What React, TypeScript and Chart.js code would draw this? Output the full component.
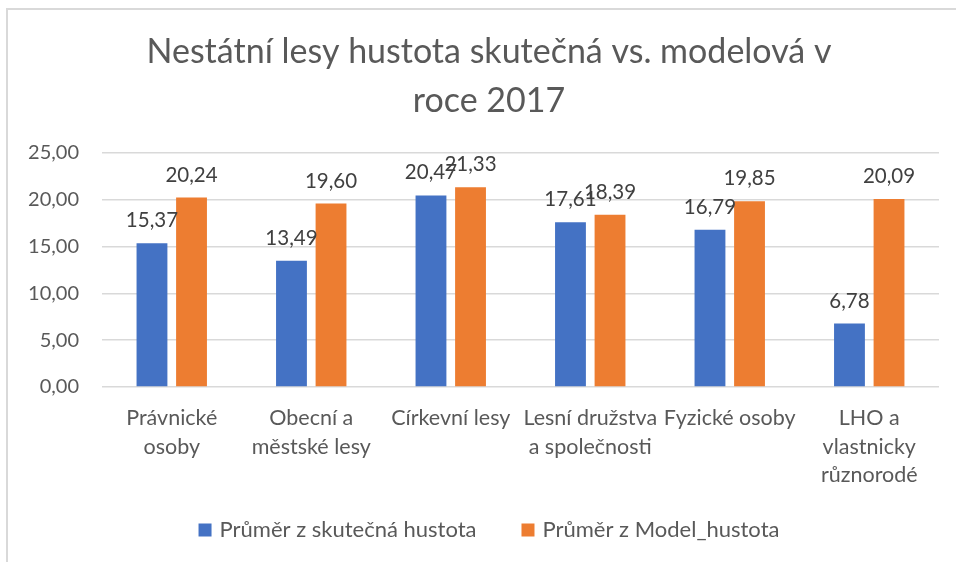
import React, { useEffect, useRef } from "react";
import { Chart, registerables } from "chart.js";

Chart.register(...registerables);

const categories: string[][] = [
  ["Právnické", "osoby"],
  ["Obecní a", "městské lesy"],
  ["Církevní lesy"],
  ["Lesní družstva", "a společnosti"],
  ["Fyzické osoby"],
  ["LHO a", "vlastnicky", "různorodé"],
];
const actualValues: number[] = [15.37, 13.49, 20.47, 17.61, 16.79, 6.78];
const modelValues: number[] = [20.24, 19.6, 21.33, 18.39, 19.85, 20.09];
const seriesNames: string[] = ["Průměr z skutečná hustota", "Průměr z Model_hustota"];
const seriesColors: string[] = ["#4472C4", "#ED7D31"];
const titleLines: string[] = ["Nestátní lesy hustota skutečná vs. modelová v", "roce 2017"];

const FONT = "Lato, 'Open Sans', sans-serif";
const TEXT = "#595959";
const CENTER_X = 489;
const fmt = (v: number) => v.toFixed(2).replace(".", ",");

const framePlugin = {
  id: "frame",
  beforeDraw(chart: any) {
    const { ctx, width, height } = chart;
    ctx.save();
    ctx.fillStyle = "#ffffff";
    ctx.fillRect(0, 0, width, height);
    ctx.strokeStyle = "#d9d9d9";
    ctx.lineWidth = 2;
    ctx.beginPath();
    ctx.moveTo(7, height);
    ctx.lineTo(7, 9);
    ctx.lineTo(width, 9);
    ctx.stroke();
    ctx.restore();
  },
};

const titlePlugin = {
  id: "customTitle",
  afterDraw(chart: any) {
    const { ctx } = chart;
    ctx.save();
    ctx.font = `34px ${FONT}`;
    ctx.fillStyle = TEXT;
    ctx.textAlign = "center";
    ctx.textBaseline = "middle";
    titleLines.forEach((line, i) => {
      ctx.fillText(line, CENTER_X, 52.5 + i * 49);
    });
    ctx.restore();
  },
};

const labelsPlugin = {
  id: "valueLabels",
  afterDatasetsDraw(chart: any) {
    const { ctx } = chart;
    ctx.save();
    ctx.font = `20.5px ${FONT}`;
    ctx.fillStyle = "#404040";
    ctx.textAlign = "center";
    ctx.textBaseline = "alphabetic";
    chart.data.datasets.forEach((ds: any, i: number) => {
      const meta = chart.getDatasetMeta(i);
      meta.data.forEach((bar: any, j: number) => {
        ctx.fillText(fmt(ds.data[j]), bar.x, bar.y - 16);
      });
    });
    ctx.restore();
  },
};

const legendPlugin = {
  id: "customLegend",
  afterDraw(chart: any) {
    const { ctx } = chart;
    ctx.save();
    ctx.font = `22px ${FONT}`;
    ctx.textBaseline = "middle";
    ctx.textAlign = "left";
    const box = 13;
    const gapText = 8;
    const gapItems = 45;
    const items = chart.data.datasets.map((ds: any) => ({
      text: ds.label as string,
      color: ds.backgroundColor as string,
      w: box + gapText + ctx.measureText(ds.label).width,
    }));
    const total = items.reduce((s: number, it: any) => s + it.w, 0) + gapItems * (items.length - 1);
    let x = CENTER_X - total / 2;
    const cy = 530;
    items.forEach((it: any) => {
      ctx.fillStyle = it.color;
      ctx.fillRect(x, cy - box / 2, box, box);
      ctx.fillStyle = TEXT;
      ctx.fillText(it.text, x + box + gapText, cy);
      x += it.w + gapItems;
    });
    ctx.restore();
  },
};

export default function App() {
  const ref = useRef<HTMLCanvasElement | null>(null);
  useEffect(() => {
    document.body.style.margin = "0";
    if (!ref.current) return;
    const chart = new Chart(ref.current, {
      type: "bar",
      data: {
        labels: categories,
        datasets: [
          { label: seriesNames[0], data: actualValues, backgroundColor: seriesColors[0] },
          { label: seriesNames[1], data: modelValues, backgroundColor: seriesColors[1] },
        ],
      },
      options: {
        responsive: false,
        animation: false,
        devicePixelRatio: 1,
        categoryPercentage: 0.567,
        barPercentage: 0.78,
        layout: { padding: { left: 10, right: 17, top: 153, bottom: 66 } },
        plugins: {
          legend: { display: false },
          tooltip: { enabled: false },
          title: { display: false },
        },
        scales: {
          x: {
            grid: { display: false, drawTicks: false },
            border: { display: false },
            ticks: {
              color: TEXT,
              font: { family: FONT, size: 21.5, lineHeight: 1.33 },
              padding: 17,
              maxRotation: 0,
              autoSkip: false,
            },
            afterFit: (s: any) => {
              s.height = 109;
            },
          },
          y: {
            min: 0,
            max: 25,
            grid: { color: "#d9d9d9", lineWidth: 1.5, drawTicks: false },
            border: { display: false },
            ticks: {
              stepSize: 5,
              color: TEXT,
              font: { family: FONT, size: 20 },
              padding: 23,
              callback: (v: any) => fmt(Number(v)),
            },
            afterFit: (s: any) => {
              s.width = 92;
            },
          },
        },
      },
      plugins: [framePlugin, titlePlugin, labelsPlugin, legendPlugin],
    });
    return () => chart.destroy();
  }, []);
  return (
    <div style={{ width: 956, height: 562 }}>
      <canvas ref={ref} width={956} height={562} style={{ display: "block" }} />
    </div>
  );
}
